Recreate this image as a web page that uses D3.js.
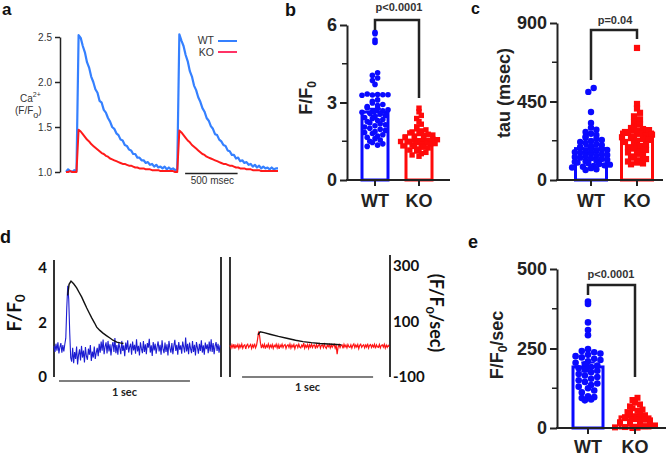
<!DOCTYPE html>
<html><head><meta charset="utf-8">
<script src="https://cdn.jsdelivr.net/npm/d3@7"></script>
<style>body{margin:0;background:#fff} svg{display:block}</style>
</head><body><svg id="c" width="666" height="456"></svg>
<script>
// ---------- DATA ----------
// Panel a: Ca2+ transients (F/F0), sampled every 20 ms
const aStepMs = 20;
const aTicks = [1.0, 1.5, 2.0, 2.5];
const aBlueWT = [1.00,1.03,1.01,1.00,1.02,1.01,
2.52,2.49,2.40,2.33,2.22,2.16,2.06,2.00,1.92,1.88,1.79,1.77,1.69,1.66,1.60,1.56,1.50,1.48,1.43,1.41,1.36,1.35,1.30,1.29,1.25,1.24,1.20,1.20,1.16,1.16,1.13,1.13,1.10,1.11,1.08,1.09,1.06,1.08,1.05,1.06,1.04,1.06,1.03,1.05,1.03,1.04,1.02,1.03,
2.53,2.46,2.40,2.30,2.23,2.12,2.06,1.96,1.91,1.83,1.78,1.71,1.67,1.60,1.57,1.51,1.48,1.42,1.41,1.36,1.34,1.30,1.29,1.24,1.23,1.19,1.19,1.15,1.16,1.12,1.13,1.10,1.11,1.08,1.09,1.06,1.08,1.05,1.07,1.04,1.06,1.04,1.05,1.03,1.05,1.03,1.04,1.04];
const aRedKO = [1.00,1.00,1.01,1.00,1.00,1.00,
1.47,1.45,1.42,1.39,1.36,1.34,1.31,1.29,1.27,1.25,1.23,1.21,1.20,1.18,1.17,1.15,1.14,1.13,1.12,1.11,1.10,1.09,1.09,1.08,1.07,1.07,1.06,1.05,1.05,1.04,1.04,1.04,1.03,1.03,1.03,1.02,1.02,1.02,1.02,1.01,1.01,1.01,1.01,1.01,1.01,1.01,1.00,1.00,
1.46,1.44,1.41,1.38,1.35,1.33,1.30,1.28,1.26,1.24,1.22,1.20,1.19,1.17,1.16,1.15,1.14,1.13,1.12,1.11,1.10,1.09,1.09,1.08,1.07,1.07,1.06,1.05,1.05,1.04,1.04,1.04,1.03,1.03,1.03,1.02,1.02,1.02,1.02,1.01,1.01,1.01,1.01,1.01,1.01,1.01,1.01,1.01];

const groups = ["WT", "KO"];
// Panel b: peak F/F0
const bTicks = [0, 3, 6], bMinor = [1.5, 4.5];
const bMeans = [2.63, 1.50], bSems = [0.13, 0.06];
const bWT = [5.72,5.66,5.42,5.32,4.15,4.05,3.95,3.85,3.70,3.33,3.31,3.30,3.29,3.28,3.30,3.10,3.05,2.98,2.92,2.88,2.84,2.80,2.76,2.72,2.68,2.65,2.62,2.58,2.55,2.50,2.46,2.42,2.38,2.34,2.30,2.26,2.22,2.18,2.14,2.10,2.05,2.00,1.96,1.92,1.88,1.84,1.80,1.75,1.70,1.65,1.60,1.55,1.50,1.45,1.40,1.35,1.30];
const bKO = [2.78,2.64,2.50,2.38,2.26,2.16,2.06,1.98,1.94,1.90,1.86,1.82,1.80,1.77,1.74,1.72,1.70,1.67,1.64,1.62,1.60,1.58,1.56,1.54,1.52,1.50,1.49,1.47,1.45,1.43,1.41,1.39,1.37,1.35,1.32,1.30,1.27,1.24,1.20,1.16,1.12,1.07,1.02,0.97,0.92];
// Panel c: tau (msec)
const cTicks = [0, 450, 900], cMinor = [225, 675];
const cMeans = [180, 275], cSems = [15, 20];
const cWT = [527,505,390,327,300,288,275,265,258,250,243,236,230,224,218,212,206,200,195,190,185,180,176,172,168,164,160,156,152,148,144,140,136,132,128,124,120,116,112,108,104,100,96,92,88,84,80,76,72,68,62,57];
const cKO = [757,436,410,385,365,348,332,318,305,298,292,286,280,275,270,265,260,255,250,245,240,235,230,225,218,210,202,195,188,180,172,165,158,150,142,135,128,120,113,106,100,95,90];
// Panel e: F/F0/sec
const eTicks = [0, 250, 500], eMinor = [125, 375];
const eMeans = [192, 35], eSems = [14, 5];
const eWT = [398,390,332,308,292,248,242,238,234,230,226,222,218,214,210,205,200,196,192,188,184,180,175,170,165,160,155,150,145,140,135,130,125,118,112,100,97,94,90,87];
const eKO = [95,88,80,74,68,62,58,54,50,46,43,40,37,34,31,28,26,24,22,20,18,16,14,12,10,8,6,4,3,2,1,0];

// Panel d: traces, sampled every 7.5 ms
const dStepMs = 7.5;
const dLeftTicks = [0, 2, 4], dRightTicks = [-100, 100, 300];
const dBlueRate = [12,-10,20,-5,25,-15,8,22,-12,15,-8,18,
40,150,229,180,60,-30,
-45,5,-50,-10,-35,10,-55,-20,0,-40,12,-30,-5,-48,8,-25,-38,2,-20,15,-42,-8,-30,10,-35,-12,5,-25,
20,-12,28,-5,35,-18,10,25,-15,30,-8,18,-22,12,26,-10,40,-14,15,-20,
22,5,-18,30,-6,14,-25,24,-2,32,-12,8,20,-20,28,-4,16,-16,36,-8,
12,-22,25,2,-14,30,-10,18,-18,22,6,38,-12,14,-24,26,-4,20,-16,10,
28,-8,16,-20,32,0,-14,24,-10,18,-22,30,4,-12,22,-18,12,34,-6,16,
-20,26,-2,14,-16,28,8,-12,42,-8,20,-18,24,2,-14,30,-10,16,-22,26,
6,-16,20,-6,32,-12,14,-20,24,0,18,-14,28,-8,36,-10,22,-18,12,26,
-6,20,-12,14];
const dRedRate = [14,4,16,6,18,2,14,8,17,3,15,7,19,4,13,16,1,14,18,6,12,17,3,15,7,20,5,14,
35,60,52,22,
4,16,7,18,2,14,8,19,4,15,7,17,3,14,9,18,5,16,1,15,8,18,6,14,17,3,13,16,7,19,
4,15,8,17,2,14,16,6,18,8,5,15,9,22,4,14,7,17,3,16,8,18,6,14,15,2,17,7,13,19,
4,14,16,6,18,8,3,15,9,17,5,16,7,14,18,4,15,-18,8,17,6,14,16,3,18,8,15,5,17,9,
7,16,4,14,19,6,15,8,17,2,14,18,7,13,16,5,15,8,20,4,14,17,6,15,8,18,3,16,9,7,
17,5,14,16,8,18,4,15,7,14,9];
const dWtFitT = [105,115,130,150,173,190,211,230,250,270,288,310,326,350,374,400,427,450,479,505,530];
const dWtFitV = [3.00,3.40,3.52,3.42,3.27,3.12,2.94,2.74,2.53,2.34,2.17,1.98,1.83,1.71,1.61,1.52,1.43,1.35,1.28,1.25,1.23];
const dKoFitT = [214,230,260,305,370,433,500,557,620,687,750,814,850];
const dKoFitV = [1.55,1.66,1.63,1.57,1.49,1.42,1.35,1.30,1.26,1.23,1.21,1.19,1.18];

// ---------- DRAW ----------
const svg = d3.select("#c");
svg.append("rect").attr("width",666).attr("height",456).attr("fill","#fff");
const ARIAL = "'Liberation Sans', Arial, sans-serif";
const CAL = "Lato, 'Open Sans', sans-serif";
const INK = "#222";

// panel letters
[["a",2,15,17],["b",285,16,18],["c",471,14,16],["d",0,243,18],["e",468,248,18]].forEach(([t,x,y,s])=>{
  svg.append("text").attr("x",x).attr("y",y).text(t).attr("font-family",ARIAL).attr("font-weight","bold").attr("font-size",s).attr("fill","#111");
});

// ---- Panel a ----
(function(){
  const x = d3.scaleLinear().domain([0, (aBlueWT.length-1)*aStepMs]).range([66, 278]);
  const y = d3.scaleLinear().domain([1.0, 2.5]).range([172, 37]);
  const ax = svg.append("g").attr("transform","translate(60,0)")
    .call(d3.axisLeft(y).tickValues(aTicks).tickFormat(d3.format(".1f")).tickSize(5).tickSizeOuter(0).tickPadding(3));
  ax.selectAll("path,line").attr("stroke",INK).attr("stroke-width",1.5);
  ax.attr("font-family",ARIAL).attr("font-size",10).selectAll("text").attr("fill","#333");
  const line = d3.line().x((d,i)=>x(i*aStepMs)).y(d=>y(d));
  svg.append("path").datum(aBlueWT).attr("d",line).attr("fill","none").attr("stroke","#3580ff").attr("stroke-width",2.2).attr("stroke-linejoin","round");
  svg.append("path").datum(aRedKO).attr("d",line).attr("fill","none").attr("stroke","#ff1a1a").attr("stroke-width",2).attr("stroke-linejoin","round");
  const t1 = svg.append("text").attr("x",20).attr("y",102).attr("font-family",ARIAL).attr("font-size",10).attr("fill","#333");
  t1.append("tspan").text("Ca");
  t1.append("tspan").attr("dy",-5).attr("font-size",7).text("2+");
  const t2 = svg.append("text").attr("x",15).attr("y",114).attr("font-family",ARIAL).attr("font-size",10).attr("fill","#333");
  t2.append("tspan").text("(F/F");
  t2.append("tspan").attr("dy",4).attr("font-size",9).text("o");
  t2.append("tspan").attr("dy",-4).text(")");
  [["WT","#3580ff",44,41],["KO","#ff3366",56,52]].forEach(([t,c,ty,ly])=>{
    svg.append("text").attr("x",214).attr("y",ty).attr("text-anchor","end").attr("font-family",ARIAL).attr("font-size",10.5).attr("fill","#333").text(t);
    svg.append("line").attr("x1",218).attr("x2",237).attr("y1",ly).attr("y2",ly).attr("stroke",c).attr("stroke-width",2);
  });
  svg.append("line").attr("x1",x(1135)).attr("x2",x(1635)).attr("y1",173.5).attr("y2",173.5).attr("stroke",INK).attr("stroke-width",1.5);
  svg.append("text").attr("x",(x(1135)+x(1635))/2+1).attr("y",184).attr("text-anchor","middle").attr("font-family",ARIAL).attr("font-size",10).attr("fill","#333").text("500 msec");
})();

// ---- row (binned scatter) layout, GraphPad style ----
function rowsLayout(vals, y, cx, binH, sp){
  const bins = d3.group(vals, v => Math.round(y(v)/binH));
  const out = [];
  for (const arr of bins.values()){
    const s = arr.slice().sort(d3.ascending), n = s.length;
    // zig-zag order so neighbours differ in height a bit
    const order = [];
    for (let j=0;j<n;j++) order.push(j%2===0 ? s[j>>1] : s[n-1-(j>>1)]);
    order.forEach((v,j)=>out.push({x: cx + (j-(n-1)/2)*sp, y: y(v)}));
  }
  return out;
}

const BLUE="#0a0aff", RED="#ff0a0a";
function barPanel(c){
  const g = svg.append("g");
  const {x,y} = c;
  const cols=[BLUE,RED];
  groups.forEach((k,i)=>{
    g.append("rect").attr("x",x(k)-c.barW/2).attr("y",y(c.means[i])).attr("width",c.barW).attr("height",y(0)-y(c.means[i]))
      .attr("fill","none").attr("stroke",cols[i]).attr("stroke-width",3);
  });
  g.selectAll(null).data(rowsLayout(c.sets[0], y, x("WT"), c.binH[0], c.sp[0])).join("circle")
    .attr("cx",d=>d.x).attr("cy",d=>d.y).attr("r",c.r).attr("fill",BLUE);
  g.selectAll(null).data(rowsLayout(c.sets[1], y, x("KO"), c.binH[1], c.sp[1])).join("rect")
    .attr("x",d=>d.x-c.sq/2).attr("y",d=>d.y-c.sq/2).attr("width",c.sq).attr("height",c.sq).attr("fill",RED);
  groups.forEach((k,i)=>{
    const cx=x(k), w=c.barW*0.45, y1=y(c.means[i]+c.sems[i]), y2=y(c.means[i]-c.sems[i]);
    g.append("path").attr("d",`M${cx},${y2}V${y1}M${cx-w/2},${y1}H${cx+w/2}M${cx-w/2},${y2}H${cx+w/2}`)
      .attr("stroke",cols[i]).attr("stroke-width",2).attr("fill","none");
  });
  const ax = g.append("g").attr("transform",`translate(${c.axisX},0)`)
    .call(d3.axisLeft(y).tickValues(c.ticks).tickFormat(d3.format("d")).tickSize(7).tickSizeOuter(0).tickPadding(3));
  ax.selectAll("path,line").attr("stroke",INK).attr("stroke-width",2);
  ax.attr("font-family",ARIAL).attr("font-size",18).attr("font-weight","bold").selectAll("text").attr("fill",INK);
  c.minor.forEach(v=>g.append("line").attr("x1",c.axisX-5).attr("x2",c.axisX).attr("y1",y(v)).attr("y2",y(v)).attr("stroke",INK).attr("stroke-width",1.5));
  g.append("line").attr("x1",c.axisX-1).attr("x2",c.right).attr("y1",y(0)).attr("y2",y(0)).attr("stroke",INK).attr("stroke-width",2);
  groups.forEach(k=>{
    g.append("line").attr("x1",x(k)).attr("x2",x(k)).attr("y1",y(0)).attr("y2",y(0)+6).attr("stroke",INK).attr("stroke-width",2);
    g.append("text").attr("x",x(k)).attr("y",c.xLabelY).attr("text-anchor","middle").attr("font-family",ARIAL)
      .attr("font-size",18).attr("font-weight","bold").attr("fill",INK).text(k);
  });
  const yl = g.append("text").attr("transform",`translate(${c.ylx},${c.yly}) rotate(-90)`).attr("text-anchor","middle")
    .attr("font-family",ARIAL).attr("font-size",18).attr("font-weight","bold").attr("fill",INK);
  let shifted = 0;
  c.ylabel.forEach(([t,sub])=>{
    if(sub){ yl.append("tspan").attr("dy",4).attr("font-size",12).text(t); shifted=4; }
    else { yl.append("tspan").attr("dy",-shifted).text(t); shifted=0; }
  });
  g.append("path").attr("d",`M${x("WT")},${c.br[0]}V${c.br[1]}H${x("KO")}V${c.br[2]}`).attr("fill","none").attr("stroke",INK).attr("stroke-width",2.5);
  g.append("text").attr("x",c.pX).attr("y",c.pY).attr("text-anchor","middle").attr("font-family",ARIAL).attr("font-size",11)
    .attr("font-weight","bold").attr("fill","#333").text(c.p);
}

barPanel({x:d3.scalePoint().domain(groups).range([375,419]), y:d3.scaleLinear().domain([0,6]).range([180,25]),
  means:bMeans, sems:bSems, sets:[bWT,bKO], ticks:bTicks, minor:bMinor, barW:26, r:2.8, sq:5.4, binH:[5,4.5], sp:[5.2,4.6],
  axisX:347, right:450, xLabelY:207, ylx:312, yly:98, ylabel:[["F/F"],["0",true]],
  br:[30,20,98], p:"p<0.0001", pX:399, pY:11});
barPanel({x:d3.scalePoint().domain(groups).range([591,637]), y:d3.scaleLinear().domain([0,900]).range([180,23]),
  means:cMeans, sems:cSems, sets:[cWT,cKO], ticks:cTicks, minor:cMinor, barW:31, r:3.2, sq:6.2, binH:[5,5], sp:[5.4,6],
  axisX:557, right:663, xLabelY:207, ylx:510, yly:93, ylabel:[["tau (msec)"]],
  br:[80,30,39], p:"p=0.04", pX:615, pY:24});
barPanel({x:d3.scalePoint().domain(groups).range([588,635]), y:d3.scaleLinear().domain([0,500]).range([428,269]),
  means:eMeans, sems:eSems, sets:[eWT,eKO], ticks:eTicks, minor:eMinor, barW:30, r:3.3, sq:6, binH:[6,5], sp:[6.2,5],
  axisX:557, right:666, xLabelY:453, ylx:503, yly:345, ylabel:[["F/F"],["0",true],["/sec"]],
  br:[295,285,377], p:"p<0.0001", pX:611, pY:278});

// ---- Panel d ----
(function(){
  const yL = d3.scaleLinear().domain([0,4]).range([377,268]);
  const yR = d3.scaleLinear().domain([-100,300]).range([377,266]);
  const xL = d3.scaleLinear().domain([0,1275]).range([54,221]);
  const xR = d3.scaleLinear().domain([0,1221]).range([230,390]);
  const AX="#333";
  [[54,260,377],[221,257,377],[230,257,377],[390,255,377]].forEach(([xx,y1,y2])=>
    svg.append("line").attr("x1",xx).attr("x2",xx).attr("y1",y1).attr("y2",y2).attr("stroke",AX).attr("stroke-width",2));
  const la = svg.append("g").attr("transform","translate(54,0)").call(d3.axisLeft(yL).tickValues(dLeftTicks).tickFormat(d=>String(d)).tickSize(0).tickPadding(7));
  la.select(".domain").remove();
  la.attr("font-family",CAL).attr("font-size",15).attr("font-weight","bold").selectAll("text").attr("fill","#111");
  const ra = svg.append("g").attr("transform","translate(390,0)").call(d3.axisRight(yR).tickValues(dRightTicks).tickFormat(d=>String(d)).tickSize(0).tickPadding(3));
  ra.select(".domain").remove();
  ra.attr("font-family",CAL).attr("font-size",15).attr("font-weight","bold").selectAll("text").attr("fill","#111");

  const blueLine = d3.line().x((d,i)=>xL(i*dStepMs)).y(d=>yR(d));
  svg.append("path").datum(dBlueRate).attr("d",blueLine).attr("fill","none").attr("stroke","#1c1cd2").attr("stroke-width",1.1);
  const redLine = d3.line().x((d,i)=>xR(i*dStepMs)).y(d=>yR(d));
  svg.append("path").datum(dRedRate).attr("d",redLine).attr("fill","none").attr("stroke","#ff1414").attr("stroke-width",1.2);
  const wtFit = d3.line().x((d,i)=>xL(dWtFitT[i])).y(d=>yL(d));
  svg.append("path").datum(dWtFitV).attr("d",wtFit).attr("fill","none").attr("stroke","#111").attr("stroke-width",1.4);
  const koFit = d3.line().x((d,i)=>xR(dKoFitT[i])).y(d=>yL(d));
  svg.append("path").datum(dKoFitV).attr("d",koFit).attr("fill","none").attr("stroke","#111").attr("stroke-width",1.4);

  [[xL,38,381,396],[xR,92,377,391]].forEach(([sx,t0,yy,ty])=>{
    svg.append("line").attr("x1",sx(t0)).attr("x2",sx(t0+1000)).attr("y1",yy).attr("y2",yy).attr("stroke","#555").attr("stroke-width",1.5);
    svg.append("text").attr("x",(sx(t0)+sx(t0+1000))/2).attr("y",ty).attr("text-anchor","middle").attr("font-family",CAL)
      .attr("font-size",11).attr("font-weight","bold").attr("fill","#222").text("1 sec");
  });
  const l = svg.append("text").attr("transform","translate(21,313) rotate(-90)").attr("text-anchor","middle")
    .attr("font-family",CAL).attr("font-size",19).attr("font-weight","bold").attr("fill","#111");
  l.append("tspan").text("F/F"); l.append("tspan").attr("dy",4).attr("font-size",13).text("0");
  const r = svg.append("text").attr("transform","translate(430,313) rotate(90)").attr("text-anchor","middle")
    .attr("font-family",CAL).attr("font-size",18).attr("font-weight","bold").attr("fill","#111");
  r.append("tspan").text("(F/F"); r.append("tspan").attr("dy",4).attr("font-size",12).text("0");
  r.append("tspan").attr("dy",-4).text("/sec)");
})();
</script></body></html>
